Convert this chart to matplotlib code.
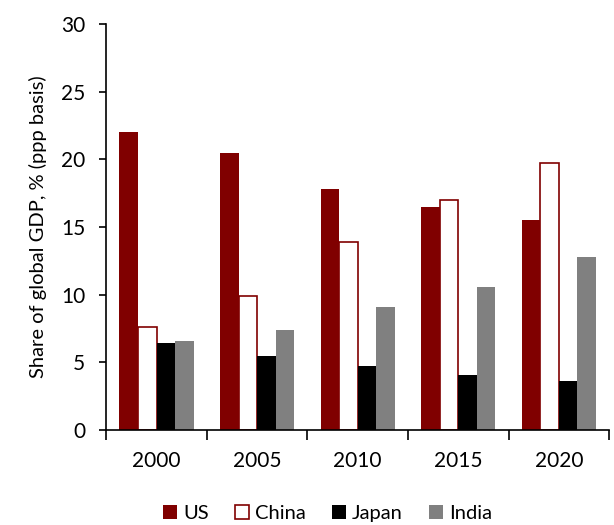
import numpy as np
import matplotlib.pyplot as plt
from matplotlib.ticker import FixedLocator

years = ['2000', '2005', '2010', '2015', '2020']
us = [22.0, 20.5, 17.8, 16.5, 15.5]
china = [7.6, 9.9, 13.9, 17.0, 19.7]
japan = [6.4, 5.5, 4.7, 4.1, 3.6]
india = [6.6, 7.4, 9.1, 10.6, 12.8]

plt.rcParams['font.family'] = ['Lato', 'DejaVu Sans']

red = '#800000'
fig = plt.figure(figsize=(6.14, 5.25), dpi=100)
ax = fig.add_axes([0.173, 0.181, 0.819, 0.773])

x = np.arange(len(years))
w = 0.184
ax.bar(x - 1.5 * w, us, w, color=red, label='US')
ax.bar(x - 0.5 * w, china, w, color='white', edgecolor=red, linewidth=1.2, label='China')
ax.bar(x + 0.5 * w, japan, w, color='black', label='Japan')
ax.bar(x + 1.5 * w, india, w, color='#808080', label='India')

ax.set_xlim(-0.5, len(years) - 0.5)
ax.set_ylim(0, 30)
ax.set_yticks(range(0, 31, 5))
ax.set_xticks(x)
ax.set_xticklabels(years, fontsize=15)
ax.tick_params(axis='x', which='major', length=0, pad=15)
ax.xaxis.set_minor_locator(FixedLocator(np.arange(-0.5, len(years), 1)))
ax.tick_params(axis='x', which='minor', length=7, width=1.2, direction='out')
ax.tick_params(axis='y', length=5, width=1.2, direction='out', labelsize=15, pad=10)
ax.set_ylabel('Share of global GDP, % (ppp basis)', fontsize=14.5, labelpad=10)

for s in ['top', 'right']:
    ax.spines[s].set_visible(False)
for s in ['left', 'bottom']:
    ax.spines[s].set_linewidth(1.2)

ax.legend(loc='upper center', bbox_to_anchor=(0.44, -0.14), ncol=4, frameon=False,
          fontsize=14.5, handlelength=0.7, handleheight=0.7, handletextpad=0.3,
          columnspacing=1.3)

fig.savefig('out.png', dpi=100)
